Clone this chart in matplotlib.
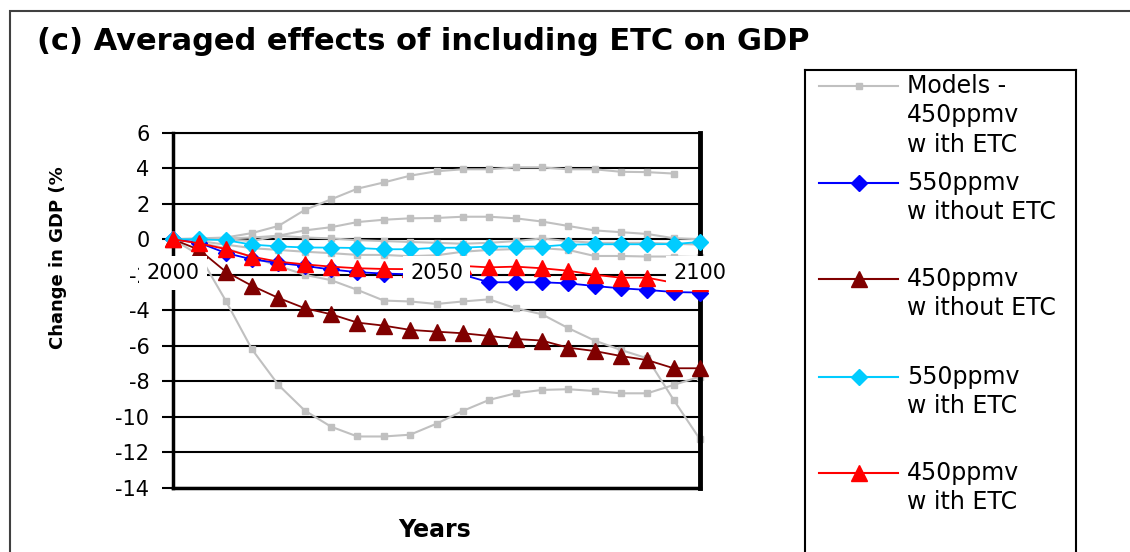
import matplotlib.pyplot as plt
from matplotlib.patches import Rectangle

plt.rcParams['axes.unicode_minus'] = False

years = list(range(2000, 2101, 5))

# individual model runs (grey, 450ppmv with ETC)
model_1 = [0, 0.05, 0.1, 0.35, 0.75, 1.65, 2.25, 2.85, 3.2, 3.58, 3.83, 3.94, 3.94, 4.05, 4.05, 3.94, 3.94, 3.8, 3.78, 3.7, float('nan')]
model_2 = [0, 0.0, 0.05, 0.1, 0.2, 0.5, 0.68, 0.97, 1.1, 1.18, 1.2, 1.27, 1.27, 1.18, 1.0, 0.75, 0.5, 0.4, 0.3, 0.06, 0.0]
model_3 = [0, 0.0, 0.0, -0.1, 0.2, 0.1, 0.05, -0.05, -0.1, -0.15, -0.2, -0.25, -0.2, -0.1, 0.05, -0.1, -0.2, -0.2, -0.2, -0.25, -0.3]
model_4 = [0, -0.1, -0.3, -0.5, -0.6, -0.7, -0.78, -0.88, -0.88, -0.95, -0.9, -0.7, -0.6, -0.55, -0.5, -0.6, -0.94, -0.94, -0.97, -0.97, -1.0]
model_5 = [0, -0.2, -0.5, -1.0, -1.5, -2.0, -2.3, -2.85, -3.45, -3.5, -3.64, -3.5, -3.38, -3.88, -4.22, -5.0, -5.7, -6.23, -6.7, -9.04, -11.26]
model_6 = [0, -0.9, -3.45, -6.2, -8.2, -9.64, -10.55, -11.1, -11.1, -11.0, -10.38, -9.66, -9.04, -8.67, -8.48, -8.44, -8.54, -8.67, -8.67, -8.2, -7.73]
models = [model_1, model_2, model_3, model_4, model_5, model_6]

# averaged runs
gdp_550_no_etc = [0, -0.2, -0.77, -1.13, -1.33, -1.5, -1.7, -1.85, -1.93, -1.97, -2.0, -2.0, -2.42, -2.42, -2.42, -2.48, -2.63, -2.76, -2.85, -2.97, -3.0]
gdp_450_no_etc = [0, -0.6, -1.82, -2.62, -3.3, -3.88, -4.22, -4.69, -4.86, -5.1, -5.2, -5.29, -5.44, -5.61, -5.7, -6.1, -6.29, -6.57, -6.8, -7.26, -7.26]
gdp_550_etc = [0, 0, -0.05, -0.3, -0.4, -0.46, -0.47, -0.49, -0.56, -0.56, -0.48, -0.47, -0.41, -0.41, -0.41, -0.3, -0.28, -0.28, -0.28, -0.27, -0.15]
gdp_450_etc = [0, -0.23, -0.55, -0.98, -1.26, -1.41, -1.54, -1.63, -1.67, -1.68, -1.62, -1.5, -1.58, -1.54, -1.63, -1.77, -2.0, -2.16, -2.16, -2.45, -2.48]

x_ticks = [2000, 2050, 2100]
y_ticks = list(range(-14, 7, 2))

legend_labels = ["Models -\n450ppmv\nw ith ETC", "550ppmv\nw ithout ETC", "450ppmv\nw ithout ETC",
                 "550ppmv\nw ith ETC", "450ppmv\nw ith ETC"]

W, H = 1130, 552
fig = plt.figure(figsize=(W / 100, H / 100), dpi=100)

# outer frame
fig.add_artist(Rectangle((10 / W, -0.1), 1.2, 1.1 - 11 / H, transform=fig.transFigure,
                         fill=False, ec='#404040', lw=1.5))

ax = fig.add_axes([173 / W, 64 / H, 527 / W, 355.3 / H])

grey = '#c0c0c0'
for m in models:
    ax.plot(years, m, color=grey, lw=1.5, marker='s', ms=5, mec=grey, clip_on=False, zorder=2)

styles = [(gdp_550_no_etc, '#0000ff', 'D', 8),
          (gdp_450_no_etc, '#800000', '^', 12),
          (gdp_550_etc, '#00ccff', 'D', 8),
          (gdp_450_etc, '#ff0000', '^', 12)]
for vals, col, mk, ms in styles:
    ax.plot(years, vals, color=col, lw=1.3, marker=mk, ms=ms, mec=col, clip_on=False, zorder=3)

ax.set_xlim(2000, 2100)
ax.set_ylim(-14, 6)
ax.set_yticks(y_ticks)
ax.set_xticks(x_ticks)
ax.set_axisbelow(True)
ax.yaxis.grid(True, color='black', lw=1.5)
ax.xaxis.set_zorder(5)

for side, lw in [('left', 2.5), ('right', 3.5), ('top', 1.5), ('bottom', 2.5)]:
    ax.spines[side].set_linewidth(lw)
    ax.spines[side].set_color('black')

ax.tick_params(axis='y', direction='out', length=8, width=1.5, labelsize=15, pad=9)
# year labels sit on the zero line, inside the plot, with a white box
ax.tick_params(axis='x', length=0, labelsize=15, pad=-162)
for lab in ax.get_xticklabels():
    lab.set_bbox(dict(boxstyle='square,pad=0.35', fc='white', ec='none'))

fig.text(37 / W, 1 - 42 / H, "(c) Averaged effects of including ETC on GDP",
         fontsize=22, fontweight='bold', ha='left', va='center')
fig.text(435 / W, 1 - 530 / H, "Years", fontsize=17, fontweight='bold', ha='center', va='center')
fig.text(58 / W, 1 - 258 / H, "Change in GDP (%", fontsize=13, fontweight='bold',
         rotation=90, ha='center', va='center')

# legend drawn by hand: handle sits on the first line of each label
lax = fig.add_axes([805 / W, 0, (1076 - 805) / W, (H - 70) / H])
lax.set_xlim(805, 1076)
lax.set_ylim(H, 70)
lax.set_xticks([])
lax.set_yticks([])
lax.spines['bottom'].set_visible(False)
for s in ['left', 'right', 'top']:
    lax.spines[s].set_linewidth(1.5)

leg_styles = [(grey, 's', 5)] + [(c, m, s) for _, c, m, s in styles]
leg_y = [86, 183, 279, 377, 473]
for (col, mk, ms), y, txt in zip(leg_styles, leg_y, legend_labels):
    lax.plot([819, 858.5, 898], [y, y, y], color=col, lw=1.5, marker=mk, ms=ms,
             mec=col, markevery=[1])
    lax.text(907, y - 12, txt, fontsize=17, ha='left', va='top', linespacing=1.28)

fig.savefig('out.png', dpi=100)
